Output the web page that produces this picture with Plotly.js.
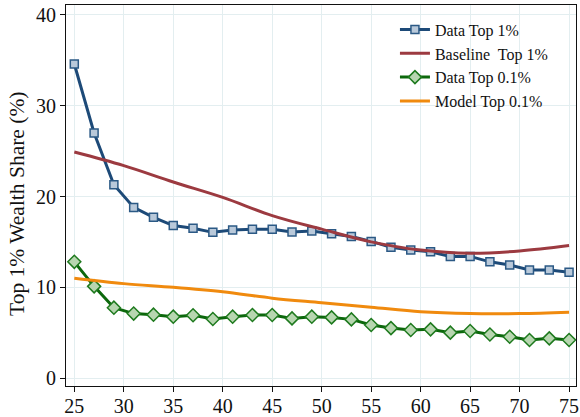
<!DOCTYPE html>
<html>
<head>
<meta charset="utf-8">
<script src="https://cdn.plot.ly/plotly-3.0.1.min.js"></script>
<style>
  html, body { margin: 0; padding: 0; background: #ffffff; }
  #chart { width: 580px; height: 417px; }
</style>
</head>
<body>
<div id="chart"></div>
<script>
// Wealth share of the top 1% and top 0.1% by age
const dataAges = [25, 27, 29, 31, 33, 35, 37, 39, 41, 43, 45, 47, 49, 51, 53, 55, 57, 59, 61, 63, 65, 67, 69, 71, 73, 75];
const dataTop1 = [34.6, 27.0, 21.3, 18.8, 17.7, 16.8, 16.5, 16.05, 16.3, 16.4, 16.4, 16.1, 16.2, 15.9, 15.6, 15.05, 14.4, 14.1, 13.9, 13.4, 13.4, 12.8, 12.45, 11.9, 11.9, 11.65];
const dataTop01 = [12.8, 10.1, 7.75, 7.1, 6.98, 6.76, 6.92, 6.5, 6.76, 6.94, 6.94, 6.57, 6.76, 6.68, 6.46, 5.84, 5.5, 5.29, 5.36, 5.0, 5.18, 4.8, 4.55, 4.19, 4.37, 4.19];

const modelAges = [25, 30, 35, 40, 45, 50, 55, 60, 65, 70, 75];
const baselineTop1 = [24.9, 23.4, 21.6, 19.9, 17.9, 16.4, 15.0, 14.1, 13.75, 14.0, 14.6];
const modelTop01 = [11.0, 10.4, 10.0, 9.5, 8.8, 8.3, 7.8, 7.3, 7.1, 7.1, 7.25];

const xTicks = [25, 30, 35, 40, 45, 50, 55, 60, 65, 70, 75];
const yTicks = [0, 10, 20, 30, 40];
const yTitle = 'Top 1% Wealth Share (%)';

const serif = 'Liberation Serif, Times New Roman, serif';

const traces = [
  {
    x: dataAges, y: dataTop1, name: 'Data Top 1%',
    type: 'scatter', mode: 'lines+markers',
    line: { color: '#1d4a78', width: 3 },
    marker: { symbol: 'square', size: 8, color: '#b9c9da', line: { color: '#2b5985', width: 1.5 } }
  },
  {
    x: modelAges, y: baselineTop1, name: 'Baseline  Top 1%',
    type: 'scatter', mode: 'lines',
    line: { color: '#9c3a40', width: 3, shape: 'spline' }
  },
  {
    x: dataAges, y: dataTop01, name: 'Data Top 0.1%',
    type: 'scatter', mode: 'lines+markers',
    line: { color: '#0c680c', width: 3 },
    marker: { symbol: 'diamond', size: 10, color: '#b7d6b0', line: { color: '#1e7a1e', width: 1.5 } }
  },
  {
    x: modelAges, y: modelTop01, name: 'Model Top 0.1%',
    type: 'scatter', mode: 'lines',
    line: { color: '#f08a0e', width: 3, shape: 'spline' }
  }
];

const layout = {
  width: 580, height: 417,
  margin: { l: 66, r: 4, t: 5, b: 31 },
  paper_bgcolor: '#ffffff', plot_bgcolor: '#ffffff',
  font: { family: serif, color: '#111111', size: 20 },
  showlegend: true,
  legend: {
    x: 0.645, y: 0.980, xanchor: 'left', yanchor: 'top',
    bgcolor: 'rgba(255,255,255,0)', borderwidth: 0,
    font: { family: serif, size: 16, color: '#111111' },
    itemwidth: 30, tracegroupgap: 0
  },
  xaxis: {
    range: [24.16, 75.7],
    tickmode: 'array', tickvals: xTicks, ticktext: xTicks.map(String),
    ticks: 'outside', ticklen: 5, tickcolor: '#111111', tickwidth: 1,
    ticklabelstandoff: -3,
    showline: true, linecolor: '#111111', linewidth: 1, mirror: true,
    showgrid: true, gridcolor: '#e3eef0', gridwidth: 1,
    zeroline: false,
    tickfont: { family: serif, size: 20, color: '#111111' }
  },
  yaxis: {
    range: [-0.88, 41.1],
    tickmode: 'array', tickvals: yTicks, ticktext: yTicks.map(String),
    ticks: 'outside', ticklen: 5, tickcolor: '#111111', tickwidth: 1,
    showline: true, linecolor: '#111111', linewidth: 1, mirror: true,
    showgrid: true, gridcolor: '#e3eef0', gridwidth: 1,
    zeroline: false,
    tickfont: { family: serif, size: 20, color: '#111111' }
  },
  annotations: [{
    text: yTitle, textangle: -90,
    xref: 'paper', yref: 'paper', x: -0.096, y: 0.478,
    xanchor: 'center', yanchor: 'middle', showarrow: false,
    font: { family: serif, size: 21.5, color: '#111111' }
  }]
};

Plotly.newPlot('chart', traces, layout, { displayModeBar: false, staticPlot: true });
</script>
</body>
</html>
